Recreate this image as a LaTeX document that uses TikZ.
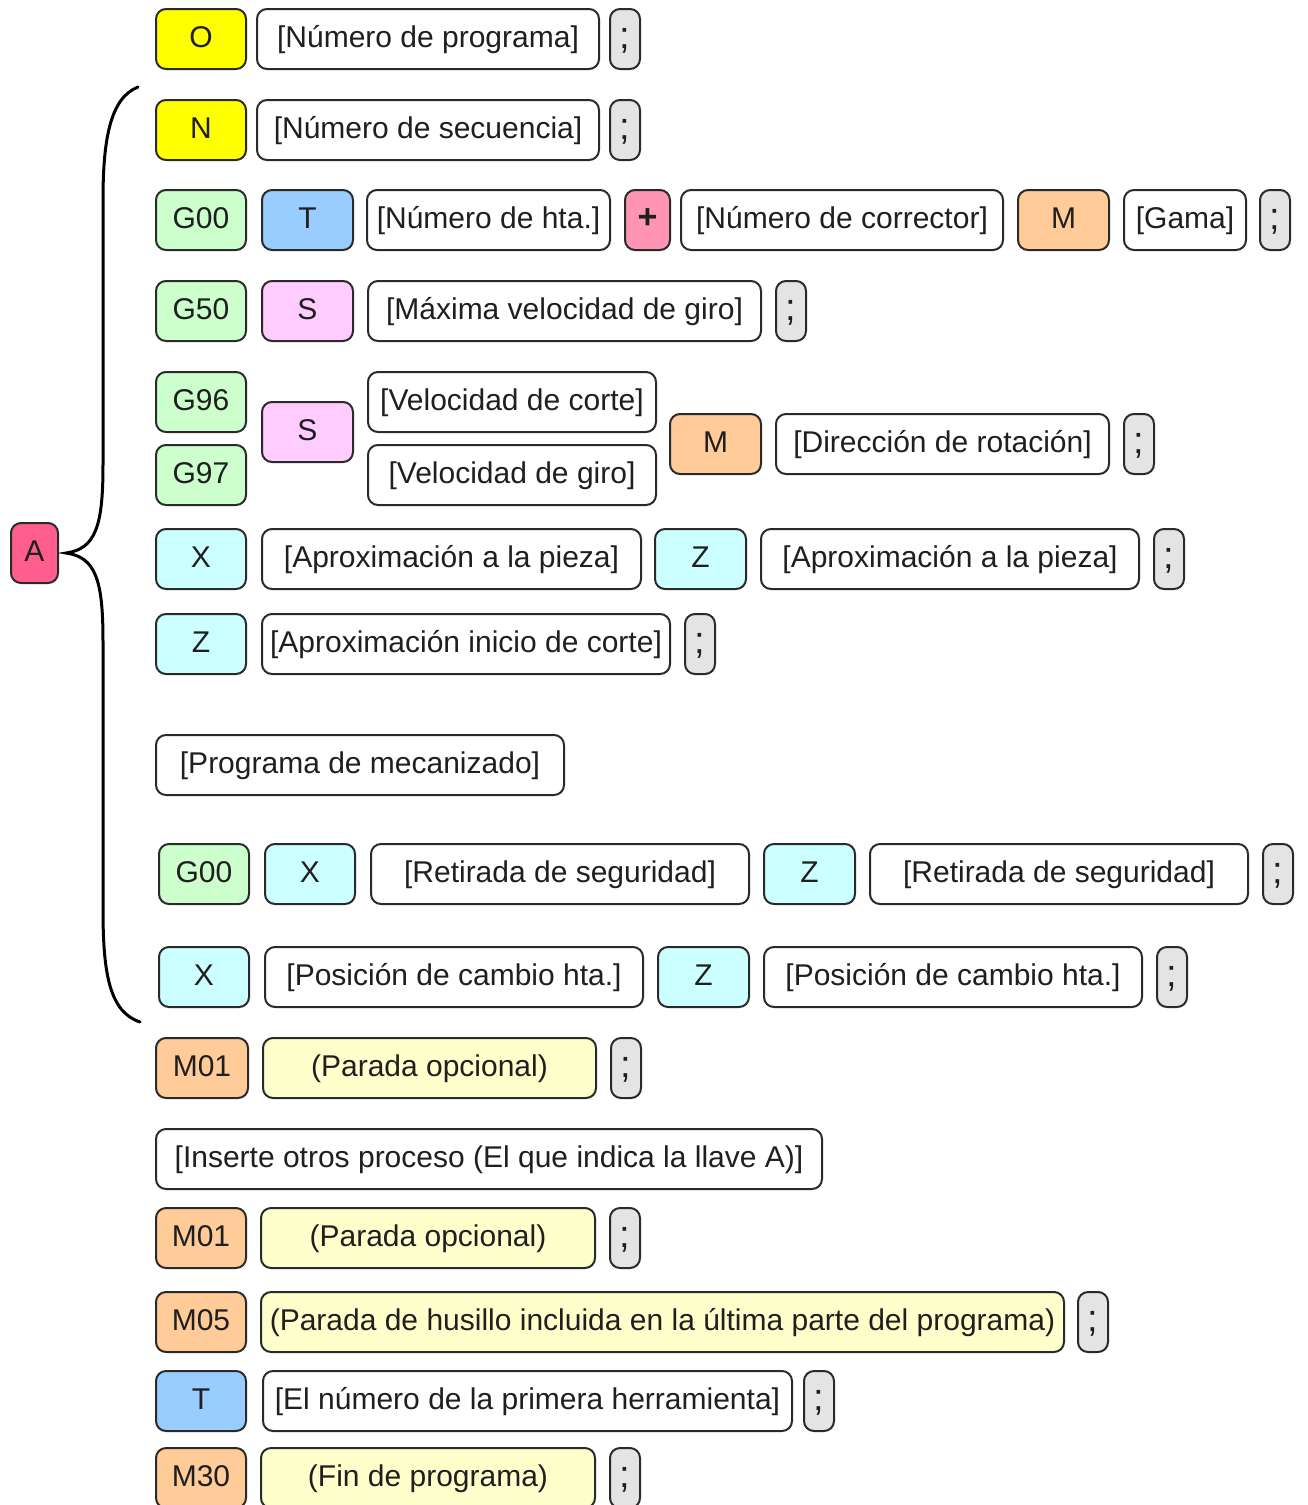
\documentclass[tikz,border=0pt]{standalone}
\usepackage{fontspec}
\setmainfont{Liberation Sans}
\usepackage{tikz}
\usetikzlibrary{positioning}
\definecolor{cYel} {HTML}{FFFF00}
\definecolor{cGrn} {HTML}{CCFFCC}
\definecolor{cBlu} {HTML}{99CCFF}
\definecolor{cPnk} {HTML}{FFCCFF}
\definecolor{cPls} {HTML}{FF94B4}
\definecolor{cOrg} {HTML}{FFCC99}
\definecolor{cCyn} {HTML}{CCFFFF}
\definecolor{cCrm} {HTML}{FFFFCC}
\definecolor{cSem} {HTML}{E4E4E4}
\definecolor{cLlv} {HTML}{FF5E8C}
\definecolor{cEdge}{HTML}{2A2A2A}
\tikzset{
  box/.style  ={draw=cEdge,fill=white,rounded corners=10pt,line width=2pt,
                minimum height=60pt,inner sep=2pt,anchor=west,
                text height=22pt,text depth=6pt,text=black!88},
  code/.style ={box,minimum width=90pt},
  arg/.style  ={box},
  semi/.style ={box,fill=cSem,minimum width=30pt,
                font=\fontsize{38}{40}\selectfont,text height=26pt,text depth=8pt},
  yel/.style  ={code,fill=cYel},
  grn/.style  ={code,fill=cGrn},
  blu/.style  ={code,fill=cBlu},
  pnk/.style  ={code,fill=cPnk},
  org/.style  ={code,fill=cOrg},
  cyn/.style  ={code,fill=cCyn},
  crm/.style  ={arg,fill=cCrm},
  brace/.style={draw=black,line width=3pt,line cap=round},
}

\begin{document}
\begin{tikzpicture}[x=1pt,y=-1pt,font=\fontsize{30}{36}\selectfont]
\useasboundingbox (0,0) rectangle (1308,1505);

% programa y secuencia
\node[yel] (o) at (155,39) {O};
\node[arg,minimum width=342pt] (oprog) at (256,39) {[Número de programa]};
\node[semi] (osemi) at (609,39) {;};

\node[yel] (n) at (155,130) {N};
\node[arg,minimum width=342pt] (nsec) at (256,130) {[Número de secuencia]};
\node[semi] (nsemi) at (609,130) {;};

% herramienta
\node[grn] (g00a) at (155,220) {G00};
\node[blu,minimum width=91pt] (ta) at (261,220) {T};
\node[arg,minimum width=243pt] (hta) at (366,220) {[Número de hta.]};
\node[box,fill=cPls,minimum width=45pt,font=\fontsize{34}{36}\selectfont\bfseries] (plus) at (624,220) {+};
\node[arg,minimum width=322pt] (corr) at (680,220) {[Número de corrector]};
\node[org,minimum width=91pt] (ma) at (1017,220) {M};
\node[arg,minimum width=122pt] (gama) at (1123,220) {[Gama]};
\node[semi] (tsemi) at (1259,220) {;};

\node[grn] (g50) at (155,311) {G50};
\node[pnk,minimum width=91pt] (sa) at (261,311) {S};
\node[arg,minimum width=393pt] (vmax) at (367,311) {[Máxima velocidad de giro]};
\node[semi] (vsemi) at (775,311) {;};

% velocidad
\node[grn] (g96) at (155,402) {G96};
\node[grn] (g97) at (155,475) {G97};
\node[pnk,minimum width=91pt] (sb) at (261,432) {S};
\node[arg,minimum width=288pt] (vcor) at (367,402) {[Velocidad de corte]};
\node[arg,minimum width=288pt] (vgir) at (367,475) {[Velocidad de giro]};
\node[org,minimum width=91pt] (mb) at (669,444) {M};
\node[arg,minimum width=333pt] (dir) at (775,444) {[Dirección de rotación]};
\node[semi] (dsemi) at (1123,444) {;};

% aproximacion
\node[cyn] (xa) at (155,559) {X};
\node[arg,minimum width=379pt] (apx) at (261,559) {[Aproximación a la pieza]};
\node[cyn,minimum width=91pt] (za) at (654,559) {Z};
\node[arg,minimum width=378pt] (apz) at (760,559) {[Aproximación a la pieza]};
\node[semi] (asemi) at (1153,559) {;};

\node[cyn] (zb) at (155,644) {Z};
\node[arg,minimum width=408pt] (apini) at (261,644) {[Aproximación inicio de corte]};
\node[semi] (isemi) at (684,644) {;};

\node[arg,minimum width=408pt] (mec) at (155,765) {[Programa de mecanizado]};

% retirada
\node[grn] (g00b) at (158,874) {G00};
\node[cyn] (xb) at (264,874) {X};
\node[arg,minimum width=378pt] (retx) at (370,874) {[Retirada de seguridad]};
\node[cyn,minimum width=91pt] (zc) at (763,874) {Z};
\node[arg,minimum width=378pt] (retz) at (869,874) {[Retirada de seguridad]};
\node[semi] (rsemi) at (1262,874) {;};

\node[cyn] (xc) at (158,977) {X};
\node[arg,minimum width=378pt] (posx) at (264,977) {[Posición de cambio hta.]};
\node[cyn,minimum width=91pt] (zd) at (657,977) {Z};
\node[arg,minimum width=378pt] (posz) at (763,977) {[Posición de cambio hta.]};
\node[semi] (psemi) at (1156,977) {;};

% llave A
\node[box,fill=cLlv,minimum width=47pt] (llave) at (10,553) {A};
\draw[brace] (138,87) .. controls (110,98) and (103,140) .. (103,200)
  -- (103,465) .. controls (103,525) and (96,549) .. (66,553)
  .. controls (96,557) and (103,581) .. (103,641)
  -- (103,910) .. controls (103,975) and (110,1012) .. (140,1022);

% final del programa
\node[org,minimum width=92pt] (m01a) at (155,1068) {M01};
\node[crm,minimum width=333pt] (opa) at (262,1068) {(Parada opcional)};
\node[semi] (m1semi) at (610,1068) {;};

\node[arg,minimum width=666pt] (otros) at (155,1159)
  {[Inserte otros proceso (El que indica la llave A)]};

\node[org] (m01b) at (155,1238) {M01};
\node[crm,minimum width=334pt] (opb) at (260,1238) {(Parada opcional)};
\node[semi] (m2semi) at (609,1238) {;};

\node[org] (m05) at (155,1322) {M05};
\node[crm,minimum width=803pt] (hus) at (260,1322)
  {(Parada de husillo incluida en la última parte del programa)};
\node[semi] (m5semi) at (1077,1322) {;};

\node[blu] (tb) at (155,1401) {T};
\node[arg,minimum width=529pt] (prim) at (262,1401) {[El número de la primera herramienta]};
\node[semi] (tbsemi) at (803,1401) {;};

\node[org] (m30) at (155,1478) {M30};
\node[crm,minimum width=334pt] (fin) at (260,1478) {(Fin de programa)};
\node[semi] (m30semi) at (609,1478) {;};
\end{tikzpicture}
\end{document}
